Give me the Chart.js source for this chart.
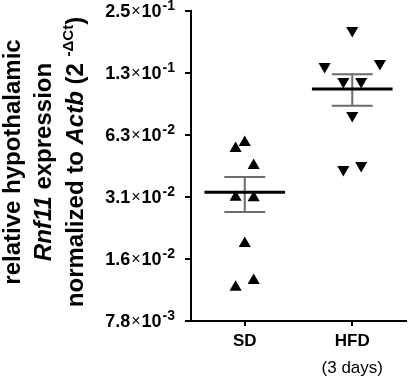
<!DOCTYPE html>
<html>
<head>
<meta charset="utf-8">
<script src="https://cdn.jsdelivr.net/npm/chart.js@4.4.0/dist/chart.umd.min.js"></script>
<style>
  html, body { margin: 0; padding: 0; background: #fff; }
</style>
</head>
<body>
<canvas id="chart" width="413" height="379"></canvas>
<script>
const groups = ['SD', 'HFD'];
const groupNotes = ['', '(3 days)'];

// y ticks are doublings (2^-7 .. 2^-2), labels as mantissa x 10^exp
const yTicks = [0.0078125, 0.015625, 0.03125, 0.0625, 0.125, 0.25];
const yTickMant = ['7.8', '1.6', '3.1', '6.3', '1.3', '2.5'];
const yTickExp = ['-3', '-2', '-2', '-2', '-1', '-1'];

// single animals: x = group position + jitter as seen in the figure
const sdX = [0.915, 1.0, 1.083, 0.915, 1.083, 1.0, 0.915, 1.083];
const sdY = [0.0537, 0.0575, 0.0444, 0.0312, 0.0310, 0.0186, 0.0114, 0.0123];
const hfdX = [2.0, 1.743, 2.257, 1.917, 2.083, 2.0, 1.917, 2.083];
const hfdY = [0.201, 0.1346, 0.139, 0.1136, 0.1136, 0.0777, 0.0425, 0.0444];

// mean +/- SEM
const means = [0.0330, 0.1046];
const semUpper = [0.0391, 0.1232];
const semLower = [0.0264, 0.0867];

const FONT = 'Liberation Sans, Arial, sans-serif';
const MEAN_HALF = 0.375;
const CAP_HALF = 0.19;

function pts(xs, ys) {
    return xs.map((x, i) => ({ x: x, y: ys[i] }));
}

const meanSets = groups.map((g, i) => ({
    data: [{ x: i + 1 - MEAN_HALF, y: means[i] }, { x: i + 1 + MEAN_HALF, y: means[i] }],
    showLine: true,
    borderColor: '#000',
    borderWidth: 3,
    pointRadius: 0
}));

const errSets = groups.map((g, i) => ({
    data: [
        { x: i + 1 - CAP_HALF, y: semUpper[i] }, { x: i + 1 + CAP_HALF, y: semUpper[i] }, { x: i + 1, y: null },
        { x: i + 1 - CAP_HALF, y: semLower[i] }, { x: i + 1 + CAP_HALF, y: semLower[i] }, { x: i + 1, y: null },
        { x: i + 1, y: semUpper[i] }, { x: i + 1, y: semLower[i] }
    ],
    showLine: true,
    spanGaps: false,
    borderColor: '#6b6b6b',
    borderWidth: 2,
    pointRadius: 0
}));

// y axis title, drawn rotated with italic / superscript parts
const titleLines = [
    [{ t: 'relative hypothalamic' }],
    [{ t: 'Rnf11', it: true }, { t: ' expression' }],
    [{ t: 'normalized to ' }, { t: 'Actb', it: true }, { t: ' (2 ' }, { t: '-ΔCt', sup: true }, { t: ')' }]
];

const extraText = {
    id: 'extraText',
    afterDraw(chart) {
        const ctx = chart.ctx;
        ctx.save();
        ctx.fillStyle = '#000';

        // axis title
        const baselines = [20, 51, 83];
        const cy = 162;
        titleLines.forEach((line, li) => {
            const fontFor = s => (s.it ? 'italic ' : '') + 'bold ' + (s.sup ? 15 : 24) + 'px ' + FONT;
            let total = 0;
            line.forEach(s => { ctx.font = fontFor(s); total += ctx.measureText(s.t).width; });
            ctx.save();
            ctx.translate(baselines[li], cy);
            ctx.rotate(-Math.PI / 2);
            ctx.textBaseline = 'alphabetic';
            ctx.textAlign = 'left';
            let x = -total / 2;
            line.forEach(s => {
                ctx.font = fontFor(s);
                ctx.fillText(s.t, x, s.sup ? -10 : 0);
                x += ctx.measureText(s.t).width;
            });
            ctx.restore();
        });

        // y tick labels with raised exponent
        const ys = chart.scales.y;
        ctx.textBaseline = 'alphabetic';
        ctx.textAlign = 'left';
        yTicks.forEach((v, i) => {
            const py = ys.getPixelForValue(v);
            const parts = [
                { t: yTickMant[i], f: 'bold 18px ' + FONT, dy: 6, gap: 1 },
                { t: '×', f: '16px ' + FONT, dy: 5, gap: 1 },
                { t: '10', f: 'bold 18px ' + FONT, dy: 6, gap: 1 },
                { t: yTickExp[i], f: 'bold 14px ' + FONT, dy: -1, gap: 0 }
            ];
            let w = 0;
            parts.forEach(p => { ctx.font = p.f; p.w = ctx.measureText(p.t).width; w += p.w + p.gap; });
            let x = 175 - w;
            parts.forEach(p => {
                ctx.font = p.f;
                ctx.fillText(p.t, x, py + p.dy);
                x += p.w + p.gap;
            });
        });

        // second line under HFD
        const xs = chart.scales.x;
        ctx.font = '17px ' + FONT;
        ctx.textAlign = 'center';
        groupNotes.forEach((n, i) => {
            if (n) ctx.fillText(n, xs.getPixelForValue(i + 1), 373);
        });
        ctx.restore();
    }
};

new Chart(document.getElementById('chart'), {
    type: 'scatter',
    data: {
        datasets: [
            ...meanSets,
            ...errSets,
            {
                data: pts(sdX, sdY),
                pointStyle: 'triangle',
                rotation: 0,
                pointRadius: 7,
                backgroundColor: '#000',
                borderColor: '#000',
                borderWidth: 0
            },
            {
                data: pts(hfdX, hfdY),
                pointStyle: 'triangle',
                rotation: 180,
                pointRadius: 7,
                backgroundColor: '#000',
                borderColor: '#000',
                borderWidth: 0
            }
        ]
    },
    options: {
        responsive: false,
        animation: false,
        layout: { padding: { top: 11, right: 0, left: 0, bottom: 0 } },
        plugins: {
            legend: { display: false },
            tooltip: { enabled: false }
        },
        scales: {
            x: {
                type: 'linear',
                min: 0.5,
                max: 2.5,
                afterBuildTicks: s => { s.ticks = groups.map((g, i) => ({ value: i + 1 })); },
                afterFit: s => { s.height = 58; },
                ticks: {
                    callback: (v, i) => groups[i],
                    color: '#000',
                    font: { family: FONT, size: 17, weight: 'bold' },
                    padding: 5
                },
                grid: { display: true, drawOnChartArea: false, drawTicks: true, tickLength: 5, color: '#000', lineWidth: 2 },
                border: { display: true, color: '#000', width: 2 }
            },
            y: {
                type: 'logarithmic',
                min: yTicks[0],
                max: yTicks[yTicks.length - 1],
                afterBuildTicks: s => { s.ticks = yTicks.map(v => ({ value: v })); },
                afterFit: s => { s.width = 191; },
                ticks: {
                    display: false
                },
                grid: { display: true, drawOnChartArea: false, drawTicks: true, tickLength: 6, color: '#000', lineWidth: 2 },
                border: { display: true, color: '#000', width: 2 }
            }
        }
    },
    plugins: [extraText]
});
</script>
</body>
</html>
